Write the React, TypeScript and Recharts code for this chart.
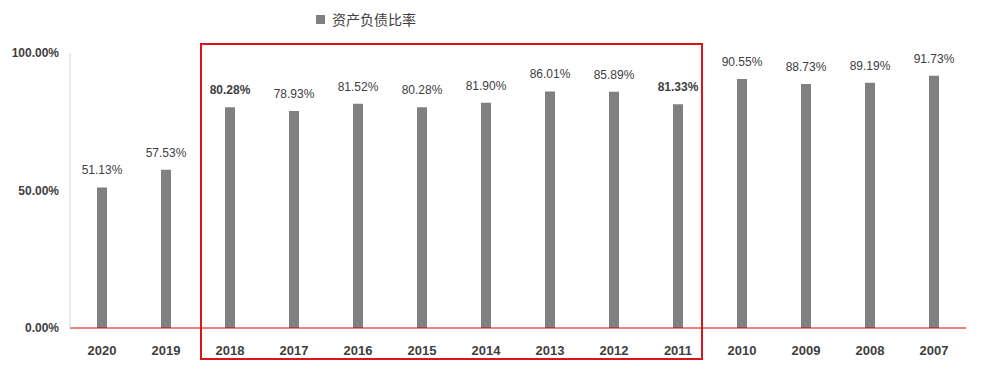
import React from "react";
import { BarChart, Bar, XAxis, YAxis, LabelList } from "recharts";

const years = ["2020", "2019", "2018", "2017", "2016", "2015", "2014", "2013", "2012", "2011", "2010", "2009", "2008", "2007"];
const ratios = [51.13, 57.53, 80.28, 78.93, 81.52, 80.28, 81.9, 86.01, 85.89, 81.33, 90.55, 88.73, 89.19, 91.73];
const boldYears = ["2018", "2011"];
const yTicks = [0, 50, 100];

const data = years.map((year, i) => ({ year, ratio: ratios[i] }));

const FONT = "'Liberation Sans', Arial, sans-serif";

function ValueLabel(props: any) {
  const { x, y, width, value, index } = props;
  const bold = boldYears.includes(years[index]);
  return (
    <text
      x={x + width / 2}
      y={y - 13}
      textAnchor="middle"
      fontSize={12}
      fontFamily={FONT}
      fontWeight={bold ? 700 : 400}
      fill="#404040"
    >
      {Number(value).toFixed(2)}%
    </text>
  );
}

export default function App() {
  return (
    <div style={{ position: "absolute", left: 0, top: 0, width: 981, height: 370, background: "#fff" }}>
      <BarChart width={981} height={370} data={data} margin={{ top: 53, right: 15, bottom: 0, left: 0 }}>
        <XAxis
          dataKey="year"
          height={42}
          axisLine={{ stroke: "#d40000", strokeWidth: 1 }}
          tickLine={false}
          tickSize={0}
          tickMargin={18}
          tick={{ fontSize: 13, fontWeight: 700, fill: "#404040", fontFamily: FONT }}
          interval={0}
        />
        <YAxis
          width={70}
          domain={[0, 100]}
          ticks={yTicks}
          tickFormatter={(v: number) => `${v.toFixed(2)}%`}
          axisLine={{ stroke: "#d9d9d9" }}
          tickLine={false}
          tickSize={0}
          tickMargin={11}
          tick={{ fontSize: 12, fontWeight: 700, fill: "#404040", fontFamily: FONT }}
        />
        <Bar dataKey="ratio" fill="#808080" barSize={10} isAnimationActive={false}>
          <LabelList dataKey="ratio" content={<ValueLabel />} />
        </Bar>
      </BarChart>
      <div
        style={{
          position: "absolute",
          left: 316,
          top: 9,
          display: "flex",
          alignItems: "center",
          fontFamily: "'Noto Sans CJK SC', sans-serif",
          fontSize: 14,
          color: "#404040",
          lineHeight: "20px",
        }}
      >
        <span style={{ width: 9, height: 9, background: "#808080", display: "inline-block", marginRight: 7 }} />
        资产负债比率
      </div>
      <div
        style={{
          position: "absolute",
          left: 200,
          top: 43,
          width: 503,
          height: 317,
          border: "2px solid #d9141b",
          boxSizing: "border-box",
          pointerEvents: "none",
        }}
      />
    </div>
  );
}
